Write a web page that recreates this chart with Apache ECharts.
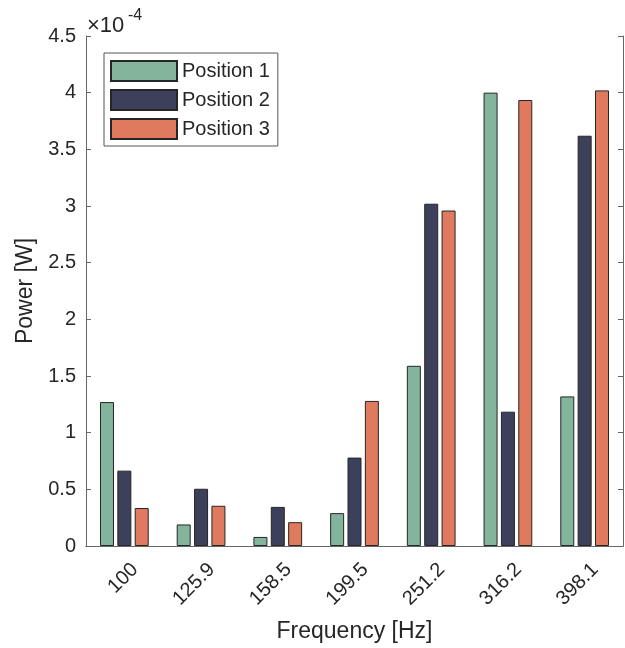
<!DOCTYPE html>
<html>
<head>
<meta charset="utf-8">
<script src="https://cdn.jsdelivr.net/npm/echarts@6/dist/echarts.min.js"></script>
<style>
  html, body { margin: 0; padding: 0; background: #fff; }
  #chart { width: 625px; height: 648px; }
</style>
</head>
<body>
<div id="chart"></div>
<script>
// frequencies (Hz)
var categories = ['100', '125.9', '158.5', '199.5', '251.2', '316.2', '398.1'];
// power values, in units of 1e-4 W
var position1 = [1.27, 0.19, 0.08, 0.29, 1.59, 4.00, 1.32];
var position2 = [0.665, 0.505, 0.345, 0.78, 3.02, 1.185, 3.62];
var position3 = [0.335, 0.355, 0.21, 1.28, 2.96, 3.935, 4.02];
var seriesNames = ['Position 1', 'Position 2', 'Position 3'];
var colors = ['#82B59B', '#3D405B', '#E07A5F'];

var textColor = '#262626';
var axisColor = '#666666';
var fontFamily = 'Liberation Sans, Arial, sans-serif';

var chart = echarts.init(document.getElementById('chart'));

function makeSeries(name, data, color) {
    return {
        name: name,
        type: 'bar',
        data: data,
        barWidth: 14,
        barGap: '24%',
        itemStyle: {
            color: color,
            borderColor: '#262626',
            borderWidth: 1
        },
        emphasis: { disabled: true }
    };
}

var option = {
    animation: false,
    backgroundColor: '#ffffff',
    textStyle: { fontFamily: fontFamily, color: textColor },
    grid: { left: 86, right: 2, top: 36, bottom: 100, containLabel: false },
    legend: {
        orient: 'vertical',
        left: 104,
        top: 53,
        padding: [7, 8, 6, 6],
        itemWidth: 66,
        itemHeight: 20,
        itemGap: 7,
        icon: 'rect',
        borderColor: '#555555',
        borderWidth: 1,
        backgroundColor: '#ffffff',
        data: seriesNames,
        textStyle: { fontSize: 20, color: textColor, fontFamily: fontFamily }
    },
    graphic: [
        {
            type: 'text',
            left: 87,
            top: 15,
            style: { text: '×10', fontSize: 22, fill: textColor, fontFamily: fontFamily }
        },
        {
            type: 'text',
            left: 128,
            top: 8,
            style: { text: '-4', fontSize: 16, fill: textColor, fontFamily: fontFamily }
        }
    ],
    xAxis: [
        {
            type: 'category',
            data: categories,
            position: 'bottom',
            name: 'Frequency [Hz]',
            nameLocation: 'middle',
            nameGap: 74,
            nameTextStyle: { fontSize: 23, color: textColor, fontFamily: fontFamily },
            axisLine: { lineStyle: { color: axisColor, width: 1 } },
            axisTick: { inside: true, alignWithLabel: true, length: 5, lineStyle: { color: axisColor } },
            axisLabel: {
                rotate: 45, fontSize: 20, color: textColor, margin: 10,
                verticalAlign: 'top', padding: [5, 0, 0, 0], fontFamily: fontFamily
            },
            splitLine: { show: false }
        },
        {
            type: 'category',
            data: categories,
            position: 'top',
            axisLine: { lineStyle: { color: axisColor, width: 1 } },
            axisTick: { inside: true, alignWithLabel: true, length: 5, lineStyle: { color: axisColor } },
            axisLabel: { show: false },
            splitLine: { show: false }
        }
    ],
    yAxis: [
        {
            type: 'value',
            min: 0,
            max: 4.5,
            interval: 0.5,
            position: 'left',
            name: 'Power [W]',
            nameLocation: 'middle',
            nameGap: 43,
            nameTextStyle: { fontSize: 23, color: textColor, fontFamily: fontFamily },
            axisLine: { show: true, lineStyle: { color: axisColor, width: 1 } },
            axisTick: { show: true, inside: true, length: 5, lineStyle: { color: axisColor } },
            axisLabel: { fontSize: 20, color: textColor, margin: 10, fontFamily: fontFamily },
            splitLine: { show: false }
        },
        {
            type: 'value',
            min: 0,
            max: 4.5,
            interval: 0.5,
            position: 'right',
            axisLine: { show: true, lineStyle: { color: axisColor, width: 1 } },
            axisTick: { show: true, inside: true, length: 5, lineStyle: { color: axisColor } },
            axisLabel: { show: false },
            splitLine: { show: false }
        }
    ],
    series: [
        makeSeries(seriesNames[0], position1, colors[0]),
        makeSeries(seriesNames[1], position2, colors[1]),
        makeSeries(seriesNames[2], position3, colors[2])
    ]
};

chart.setOption(option);
</script>
</body>
</html>
